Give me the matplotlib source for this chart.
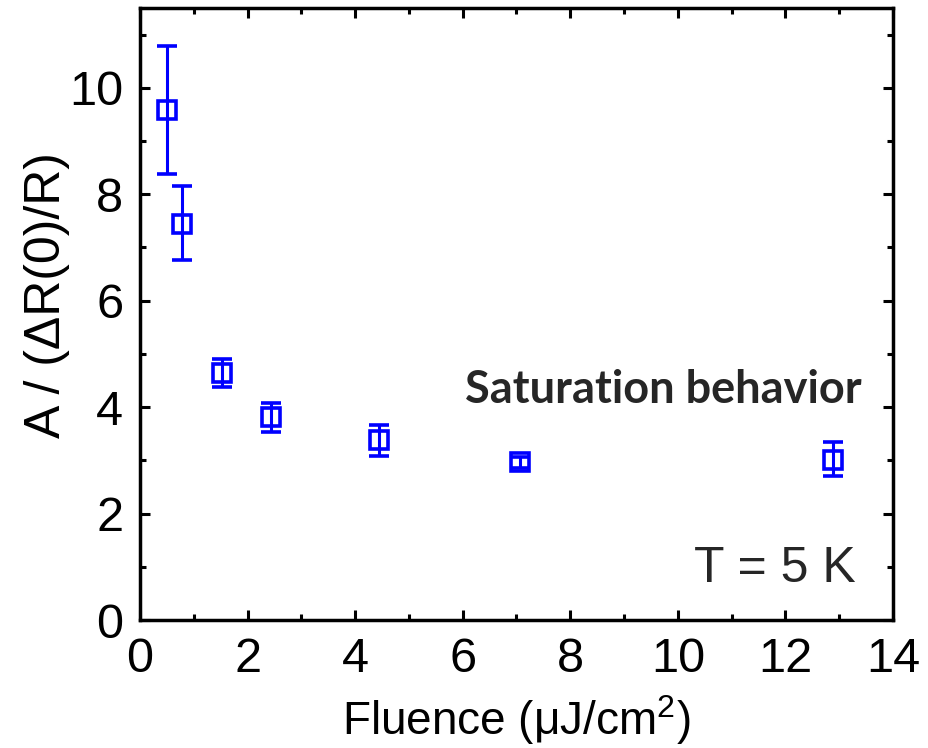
import matplotlib
matplotlib.use("Agg")
import matplotlib.pyplot as plt
import numpy as np

# data
fluence = [0.50, 0.78, 1.53, 2.44, 4.45, 7.07, 12.88]
ratio = [9.59, 7.45, 4.64, 3.81, 3.38, 2.96, 3.01]
err_up = [1.19, 0.71, 0.27, 0.27, 0.28, 0.10, 0.33]
err_dn = [1.20, 0.69, 0.27, 0.28, 0.29, 0.10, 0.30]

x_ticks = [0, 2, 4, 6, 8, 10, 12, 14]
y_ticks = [0, 2, 4, 6, 8, 10]

plt.rcParams["font.family"] = ["Liberation Sans", "DejaVu Sans"]
plt.rcParams["mathtext.fontset"] = "custom"
plt.rcParams["mathtext.rm"] = "Liberation Sans"
plt.rcParams["mathtext.it"] = "Liberation Sans:italic"

fig = plt.figure(figsize=(9.29, 7.48), dpi=100)
ax = fig.add_axes([0.1507, 0.1711, 0.8105, 0.8182])

ax.errorbar(
    fluence, ratio,
    yerr=[err_dn, err_up],
    fmt="s",
    color="#0000FF",
    mfc="none",
    mec="#0000FF",
    ms=13.5,
    mew=2.6,
    elinewidth=2.2,
    capsize=7.5,
    capthick=2.2,
    zorder=3,
)

ax.set_xlim(0, 14)
ax.set_ylim(0, 11.5)
ax.set_xticks(x_ticks)
ax.set_yticks(y_ticks)
ax.set_xticks(np.arange(1, 14, 2), minor=True)
ax.set_yticks(np.arange(1, 12, 2), minor=True)

for s in ax.spines.values():
    s.set_linewidth(2.5)

ax.tick_params(which="both", direction="in", top=True, right=True,
               width=2.2, labelsize=35, pad=12)
ax.tick_params(which="major", length=7)
ax.tick_params(which="minor", length=4)

ax.set_xlabel("Fluence (μJ/cm$^{2}$)", fontsize=33, labelpad=8)
ax.set_ylabel("A / (ΔR(0)/R)", fontsize=36)
ax.yaxis.set_label_coords(-0.093, 0.531)

ax.text(0.959, 0.355, "Saturation behavior", transform=ax.transAxes,
        ha="right", va="baseline", fontsize=32.5, fontweight="bold",
        family=["Lato", "DejaVu Sans"], color="#262626")
ax.text(0.950, 0.062, "T = 5 K", transform=ax.transAxes,
        ha="right", va="baseline", fontsize=36, color="#262626")

fig.savefig("out.png", dpi=100)
